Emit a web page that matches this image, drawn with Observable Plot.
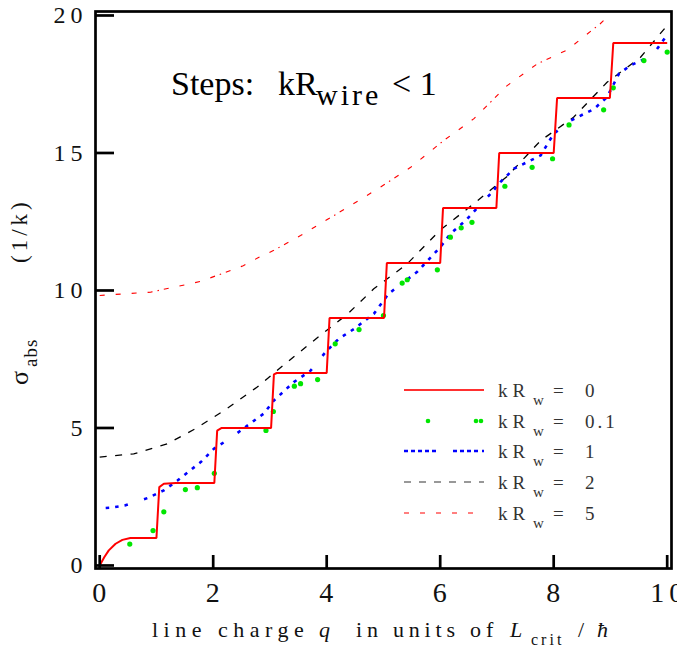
<!DOCTYPE html>
<html><head><meta charset="utf-8">
<script src="https://cdn.jsdelivr.net/npm/d3@7"></script>
<script src="https://cdn.jsdelivr.net/npm/@observablehq/plot@0.6"></script>
<style>
body{margin:0;background:#fff;}
#chart svg{display:block;}
</style>
</head><body><div id="chart"></div>
<script>
const xTicks = [0, 2, 4, 6, 8, 10];
const yTicks = [0, 5, 10, 15, 20];
const legendLabels = ["0", "0.1", "1", "2", "5"];

// kR_w = 0 (steps)
const q0 = [0, 0.08, 0.16, 0.28, 0.40, 0.54, 1.0, 1.05, 1.13, 1.34, 2.02, 2.07, 2.15, 3.02, 3.07, 3.12, 4.0, 4.05, 5.01, 5.06, 6.0, 6.05, 6.99, 7.04, 8.0, 8.06, 8.99, 9.05, 10.0];
const s0 = [0, 0.3, 0.55, 0.79, 0.93, 1.0, 1.0, 2.85, 2.97, 3.0, 3.0, 4.9, 5.0, 5.0, 6.95, 7.0, 7.0, 9.0, 9.0, 11.0, 11.0, 13.0, 13.0, 15.0, 15.0, 17.0, 17.0, 19.0, 19.0];

// kR_w = 0.1 (sparse green dots)
const qG = [0.53, 0.94, 1.13, 1.51, 1.72, 2.02, 2.93, 3.06, 3.43, 3.54, 3.84, 4.15, 4.57, 5.0, 5.33, 5.42, 5.95, 6.18, 6.37, 6.56, 7.14, 7.62, 7.98, 8.27, 8.88, 9.05, 9.59, 10.0];
const sG = [0.78, 1.27, 1.95, 2.76, 2.83, 3.35, 4.91, 5.6, 6.52, 6.61, 6.76, 8.06, 8.58, 9.09, 10.27, 10.39, 10.75, 11.94, 12.28, 12.48, 13.79, 14.48, 14.79, 16.02, 16.57, 17.37, 18.36, 18.67];

// kR_w = 1 (blue dotted)
const q1 = [0, 0.2, 0.44, 0.84, 1.13, 1.37, 1.78, 2.01, 2.33, 2.63, 2.89, 3.07, 3.42, 3.71, 3.98, 4.21, 4.48, 4.83, 5.09, 5.59, 6.0, 6.18, 6.45, 6.89, 7.06, 7.3, 7.77, 8.0, 8.3, 8.71, 8.94, 9.15, 9.35, 9.74, 9.97];
const s1 = [2.08, 2.1, 2.18, 2.45, 2.73, 3.09, 3.76, 4.24, 4.67, 5.13, 5.52, 6.0, 6.67, 7.07, 7.76, 8.24, 8.6, 9.15, 9.88, 10.67, 11.57, 12.06, 12.55, 13.52, 13.94, 14.43, 14.91, 15.7, 16.18, 16.6, 17.03, 17.88, 18.18, 18.55, 19.21];

// kR_w = 2 (black dashed)
const q2 = [0, 0.6, 1.19, 1.70, 2.24, 2.77, 3.29, 3.84, 4.37, 4.83, 5.42, 6.0, 6.59, 7.18, 7.77, 8.35, 8.94, 9.53, 10.0];
const s2 = [3.94, 4.06, 4.42, 4.99, 5.70, 6.48, 7.37, 8.29, 9.15, 10.06, 10.97, 12.2, 13.15, 14.15, 15.45, 16.3, 17.57, 18.48, 19.64];

// kR_w = 5 (red dash-dot)
const q5 = [0, 0.9, 1.78, 2.53, 2.79, 3.06, 3.54, 4.18, 4.42, 4.95, 5.48, 6.06, 6.59, 7.18, 7.71, 8.24, 8.52, 8.82, 8.97];
const s5 = [9.82, 9.94, 10.33, 10.9, 11.19, 11.45, 12.0, 12.79, 13.09, 13.76, 14.48, 15.45, 16.24, 17.45, 18.24, 18.75, 19.21, 19.7, 20.0];

const W = 677, H = 647, mL = 95, mR = 6, mT = 11, mB = 79;
const innerW = W - mL - mR, innerH = H - mT - mB;
const serif = "'Liberation Serif', 'Times New Roman', Times, serif";
const rows = (q, s) => q.map((x, i) => ({q: x, s: s[i]}));

const blueDash = Array(10).fill("3.5,6").join(",") + ",3.5,17";

const plot = Plot.plot({
  width: W, height: H,
  marginLeft: mL, marginRight: mR, marginTop: mT, marginBottom: mB,
  x: {domain: [-0.074, 10.076], axis: null},
  y: {domain: [-0.11, 20.145], axis: null},
  style: {background: "white", fontFamily: serif, color: "black"},
  marks: [
    Plot.line(rows(q5, s5), {x: "q", y: "s", stroke: "#ff0000", strokeWidth: 1.1, strokeLinecap: "butt", strokeDasharray: "5,11,5,11,5,11,5,5,1.5,5"}),
    Plot.line(rows(q2, s2), {x: "q", y: "s", stroke: "#000", strokeWidth: 1.3, strokeLinecap: "butt", strokeDasharray: "7,8.5"}),
    Plot.line(rows(q1, s1), {x: "q", y: "s", stroke: "#0000ff", strokeWidth: 2.6, strokeLinecap: "butt", strokeDasharray: blueDash, strokeDashoffset: 70}),
    Plot.dot(rows(qG, sG), {x: "q", y: "s", r: 2.6, fill: "#00e600"}),
    Plot.line(rows(q0, s0), {x: "q", y: "s", stroke: "#ff0000", strokeWidth: 2, strokeLinejoin: "miter", strokeLinecap: "butt"}),
    Plot.ruleX(xTicks, {x: d => d, insetTop: innerH - 13, stroke: "black", strokeWidth: 2.7}),
    Plot.ruleY(yTicks, {y: d => d, insetRight: innerW - 19, stroke: "black", strokeWidth: 2.7}),
    Plot.frame({stroke: "black", strokeWidth: 2.7}),
    Plot.text(yTicks, {y: d => d, text: d => String(d), frameAnchor: "left", textAnchor: "end", lineAnchor: "middle", dx: -8, fontSize: 24, fill: "#111"}),
    Plot.text(xTicks, {x: d => d, text: d => String(d), frameAnchor: "bottom", textAnchor: "middle", lineAnchor: "middle", dy: 25, dx: 2, fontSize: 28, fill: "#111"})
  ]
});

const svg = d3.select(plot);
svg.selectAll("text").attr("letter-spacing", 5);

function txt(x, y, s, opts = {}) {
  const t = svg.append("text")
    .attr("x", x).attr("y", y)
    .attr("text-anchor", "start")
    .attr("font-family", serif)
    .attr("font-size", opts.size || 20)
    .attr("fill", opts.fill || "#111")
    .attr("letter-spacing", opts.ls || 0)
    .text(s);
  if (opts.italic) t.attr("font-style", "italic");
  if (opts.transform) t.attr("transform", opts.transform);
  return t;
}

// Title inside the plot
txt(171, 95, "Steps:", {size: 34, fill: "#000"});
txt(278, 95, "kR", {size: 34, fill: "#000"});
txt(316, 105, "wire", {size: 30, fill: "#000", ls: 3});
txt(392, 95, "< 1", {size: 34, fill: "#000"});

// X axis label
txt(152, 637, "line charge", {size: 22, ls: 5.5});
txt(319, 637, "q", {size: 22, italic: true});
txt(356, 637, "in units of", {size: 22, ls: 4.8});
txt(510, 637, "L", {size: 22, italic: true});
txt(531, 645, "crit", {size: 16, ls: 3});
txt(578, 637, "/", {size: 22});
txt(597, 637, "ħ", {size: 22, italic: true});

// Y axis label (rotated)
txt(-385, 28, "σ", {size: 26, transform: "rotate(-90)"});
txt(-367, 37, "abs", {size: 19, ls: 1, transform: "rotate(-90)"});
txt(-263, 27, "(1/k)", {size: 23, ls: 4, transform: "rotate(-90)"});

// Legend
const legY = [390, 421, 451, 482, 513];
const lx0 = 404, lx1 = 484;
legendLabels.forEach((lab, i) => {
  const cy = legY[i];
  if (i === 0) {
    svg.append("line").attr("x1", lx0).attr("x2", lx1).attr("y1", cy).attr("y2", cy)
      .attr("stroke", "#ff3030").attr("stroke-width", 1.8);
  } else if (i === 1) {
    [428, 476, 481].forEach(cx => svg.append("circle").attr("cx", cx).attr("cy", cy).attr("r", 2.3).attr("fill", "#00e600"));
  } else if (i === 2) {
    svg.append("line").attr("x1", lx0).attr("x2", lx1).attr("y1", cy).attr("y2", cy)
      .attr("stroke", "#0000ff").attr("stroke-width", 2.4)
      .attr("stroke-dasharray", "4,3,4,3,4,3,4,3,4,17,4,3,4,3,4,3,4");
  } else if (i === 3) {
    svg.append("line").attr("x1", lx0).attr("x2", lx1).attr("y1", cy).attr("y2", cy)
      .attr("stroke", "#333").attr("stroke-width", 1.2).attr("stroke-dasharray", "7,8");
  } else {
    svg.append("line").attr("x1", lx0).attr("x2", lx1).attr("y1", cy).attr("y2", cy)
      .attr("stroke", "#ff0000").attr("stroke-width", 1.1).attr("stroke-dasharray", "5,11");
  }
  const by = cy + 7;
  txt(498, by, "kR", {size: 19, ls: 5, fill: "#333"});
  txt(533, by + 8, "w", {size: 15, fill: "#333"});
  txt(553, by, "=", {size: 19, fill: "#333"});
  txt(585, by, lab, {size: 19, ls: 3, fill: "#333"});
});

document.getElementById("chart").appendChild(plot);
</script>
</body></html>
